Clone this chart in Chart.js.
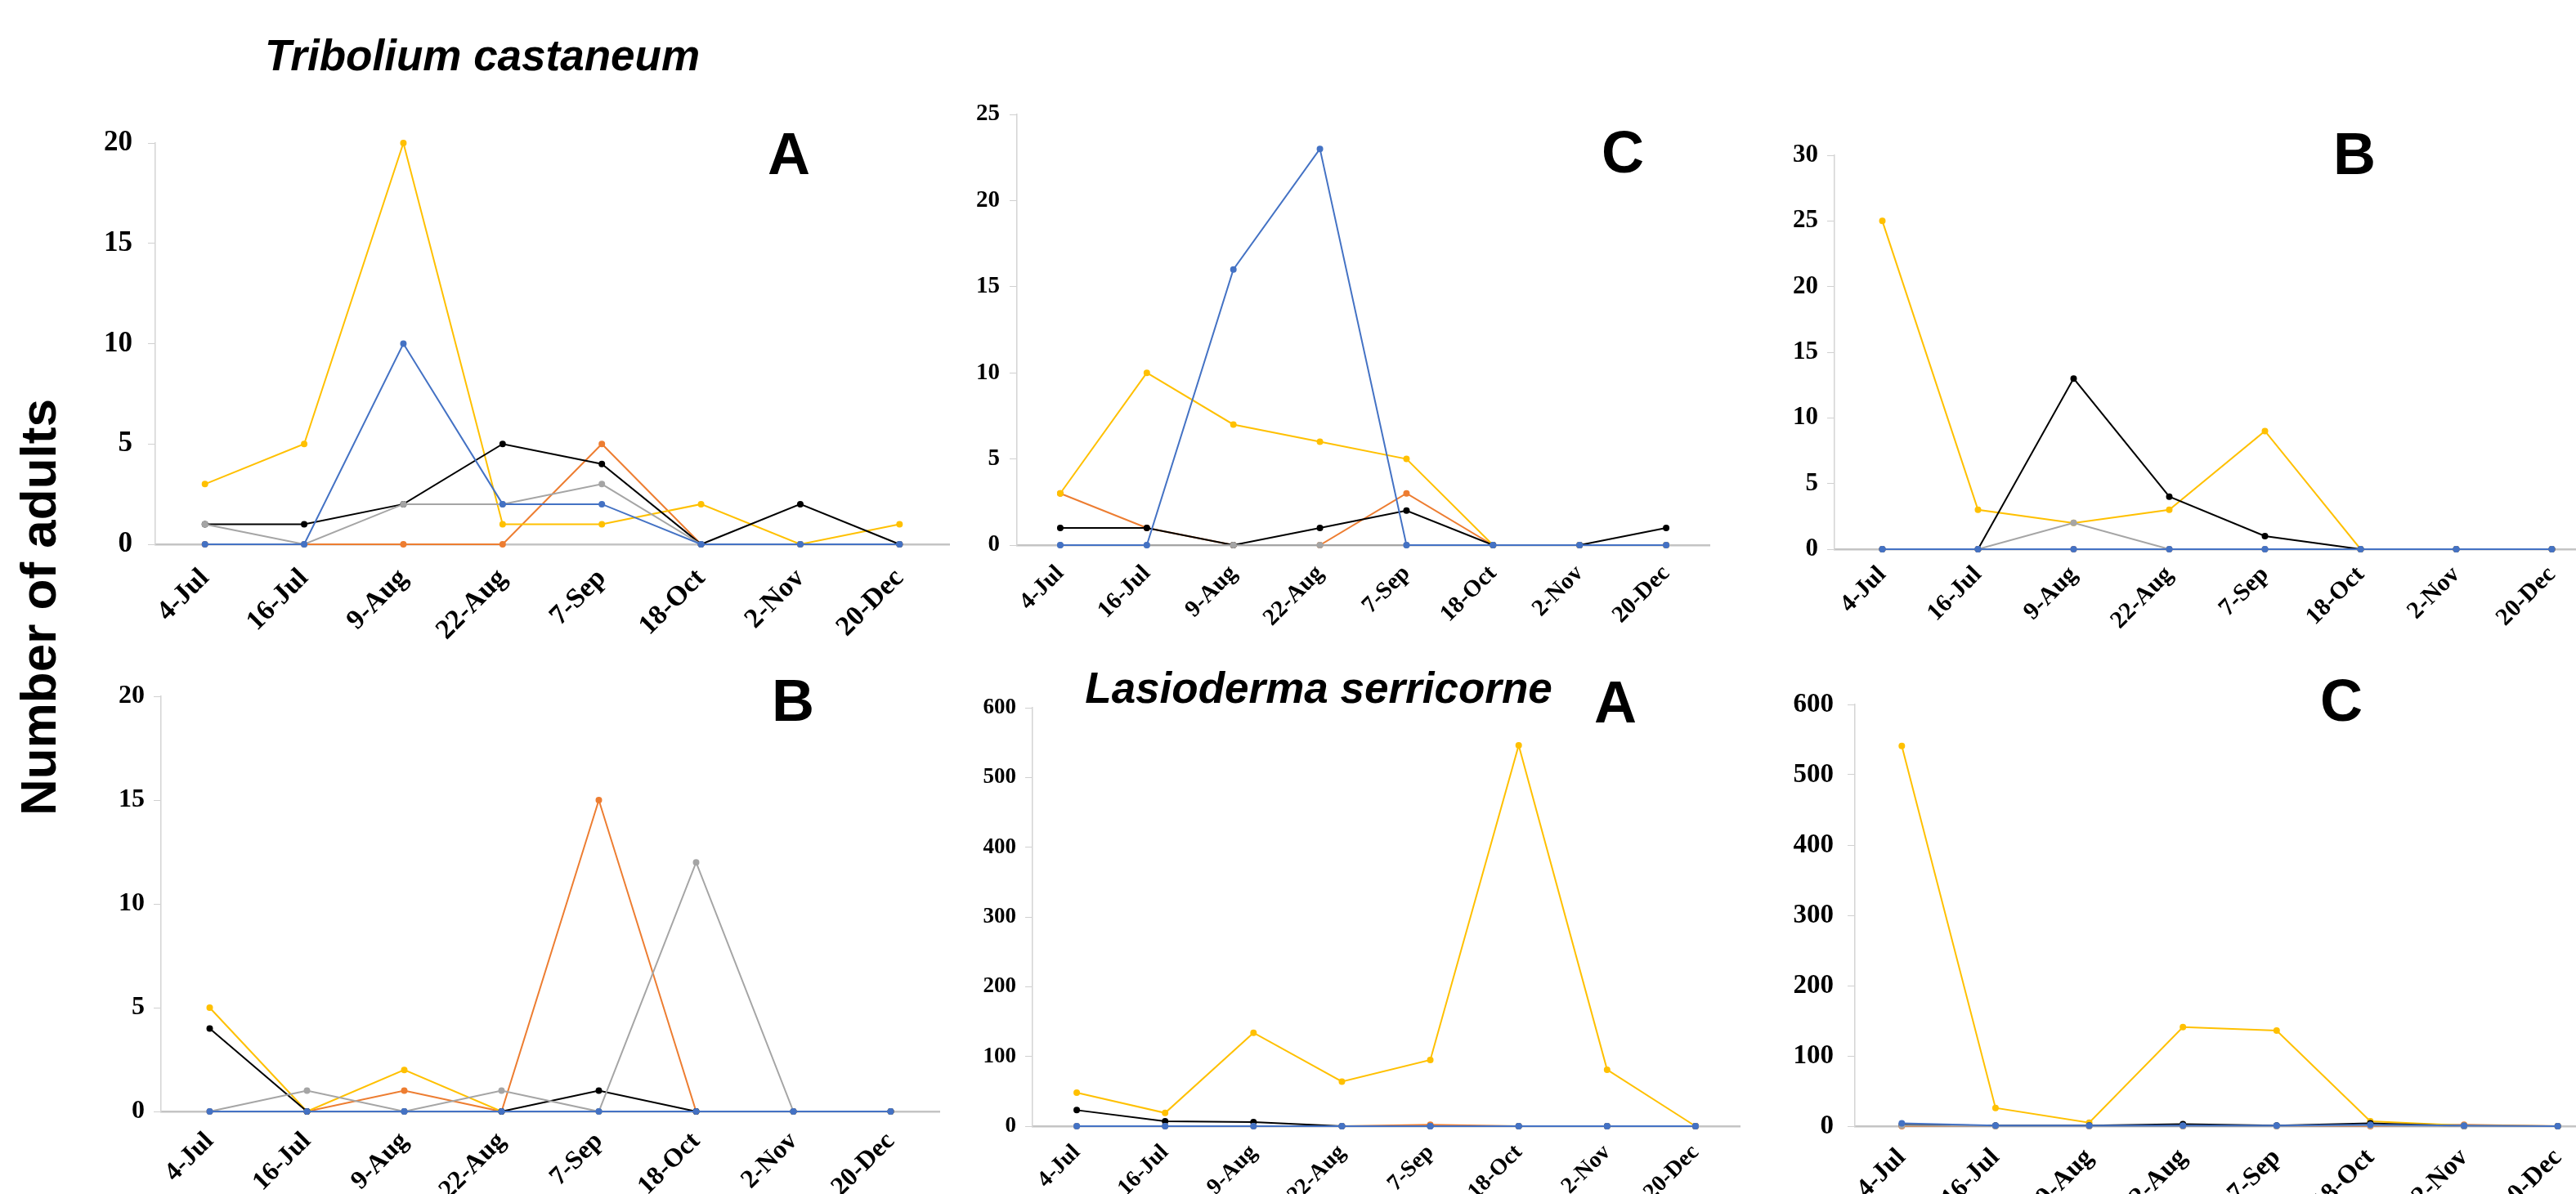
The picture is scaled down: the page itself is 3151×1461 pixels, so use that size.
<!DOCTYPE html>
<html>
<head>
<meta charset="utf-8">
<script src="https://cdn.jsdelivr.net/npm/chart.js@4.4.1/dist/chart.umd.min.js"></script>
<style>
  html, body { margin: 0; padding: 0; width: 3151px; height: 1461px; overflow: hidden; background: #fff; }
  canvas { position: absolute; }
  .lbl { position: absolute; font-family: "Liberation Sans", Arial, sans-serif; font-weight: bold;
         color: #000; line-height: 1; white-space: nowrap; transform: translateX(-50%); }
  .title { font-style: italic; font-size: 53px; }
  .letter { font-size: 72px; }
  .ytitle { position: absolute; font-family: "Liberation Sans", Arial, sans-serif; font-weight: bold;
            font-size: 62px; line-height: 1; white-space: nowrap; left: 47px; top: 743px;
            transform: translate(-50%, -50%) rotate(-90deg); }
</style>
</head>
<body>
<div class="ytitle">Number of adults</div>
<script>
const dates = ["4-Jul", "16-Jul", "9-Aug", "22-Aug", "7-Sep", "18-Oct", "2-Nov", "20-Dec"];

// Tribolium castaneum - A (top left)
const tcA_blue   = [0, 0, 10, 2, 2, 0, 0, 0];
const tcA_orange = [0, 0, 0, 0, 5, 0, 0, 0];
const tcA_gray   = [1, 0, 2, 2, 3, 0, 0, 0];
const tcA_yellow = [3, 5, 20, 1, 1, 2, 0, 1];
const tcA_black  = [1, 1, 2, 5, 4, 0, 2, 0];

// C (top middle)
const tcC_blue   = [0, 0, 16, 23, 0, 0, 0, 0];
const tcC_orange = [3, 1, 0, 0, 3, 0, 0, 0];
const tcC_gray   = [0, 0, 0, 0, 0, 0, 0, 0];
const tcC_yellow = [3, 10, 7, 6, 5, 0, 0, 0];
const tcC_black  = [1, 1, 0, 1, 2, 0, 0, 1];

// B (top right)
const tcB_blue   = [0, 0, 0, 0, 0, 0, 0, 0];
const tcB_orange = [0, 0, 0, 0, 0, 0, 0, 0];
const tcB_gray   = [0, 0, 2, 0, 0, 0, 0, 0];
const tcB_yellow = [25, 3, 2, 3, 9, 0, 0, 0];
const tcB_black  = [0, 0, 13, 4, 1, 0, 0, 0];

// B (bottom left)
const lsB_blue   = [0, 0, 0, 0, 0, 0, 0, 0];
const lsB_orange = [0, 0, 1, 0, 15, 0, 0, 0];
const lsB_gray   = [0, 1, 0, 1, 0, 12, 0, 0];
const lsB_yellow = [5, 0, 2, 0, 0, 0, 0, 0];
const lsB_black  = [4, 0, 0, 0, 1, 0, 0, 0];

// Lasioderma serricorne - A (bottom middle)
const lsA_blue   = [0, 0, 0, 0, 0, 0, 0, 0];
const lsA_orange = [0, 0, 0, 0, 2, 0, 0, 0];
const lsA_gray   = [0, 0, 0, 0, 0, 0, 0, 0];
const lsA_yellow = [48, 19, 134, 64, 95, 546, 81, 0];
const lsA_black  = [23, 7, 6, 0, 0, 0, 0, 0];

// C (bottom right)
const lsC_blue   = [4, 1, 1, 1, 1, 2, 1, 0];
const lsC_orange = [0, 0, 0, 0, 0, 0, 2, 0];
const lsC_gray   = [1, 0, 0, 0, 0, 1, 0, 0];
const lsC_yellow = [541, 26, 5, 141, 136, 7, 1, 0];
const lsC_black  = [2, 1, 1, 3, 1, 4, 0, 0];

const COLORS = { blue: "#4472C4", orange: "#ED7D31", gray: "#A5A5A5", yellow: "#FFC000", black: "#000000" };
const SERIF = '"Liberation Serif", "Times New Roman", serif';
const XH = 170, PT = 40, PR = 30;

function makePanel(p) {
  const left = p.axisX - 120, top = p.top - PT;
  const width = p.right + PR - left, height = p.bottom + XH - top;
  const c = document.createElement("canvas");
  c.width = width; c.height = height;
  c.style.left = left + "px"; c.style.top = top + "px";
  c.style.width = width + "px"; c.style.height = height + "px";
  document.body.appendChild(c);

  // blue drawn on top, orange at the bottom
  const series = [
    ["blue", p.blue, 1], ["gray", p.gray, 2], ["black", p.black, 3],
    ["yellow", p.yellow, 4], ["orange", p.orange, 5]
  ];
  new Chart(c, {
    type: "line",
    data: {
      labels: dates,
      datasets: series.map(([col, data, order]) => ({
        data: data, order: order,
        borderColor: COLORS[col], backgroundColor: COLORS[col],
        pointBackgroundColor: COLORS[col], pointBorderColor: COLORS[col],
        borderWidth: 2, pointRadius: 3, pointHoverRadius: 3, tension: 0, fill: false, clip: false
      }))
    },
    options: {
      responsive: false, animation: false, devicePixelRatio: 1,
      layout: { padding: { top: PT, right: PR, left: 0, bottom: 0 } },
      plugins: { legend: { display: false }, tooltip: { enabled: false } },
      scales: {
        x: {
          offset: true,
          grid: { display: true, drawOnChartArea: false, drawTicks: false },
          border: { display: true, color: "#c4c4c4", width: 2.5 },
          ticks: { autoSkip: false, minRotation: 45, maxRotation: 45, padding: p.xPad, color: "#000",
                   font: { family: SERIF, weight: "bold", size: p.xFont } },
          afterFit: (s) => { s.height = XH; }
        },
        y: {
          min: 0, max: p.max,
          ticks: { stepSize: p.step, padding: p.yPad, color: "#000",
                   font: { family: SERIF, weight: "bold", size: p.yFont } },
          grid: { display: true, drawOnChartArea: false, drawTicks: true, tickLength: 9, color: "#d0d0d0" },
          border: { display: true, color: "#d4d4d4", width: 1.5 },
          afterFit: (s) => { s.width = 120; }
        }
      }
    }
  });
}

makePanel({ axisX: 190, top: 175, bottom: 666, right: 1161, max: 20, step: 5, yFont: 35, xFont: 34, yPad: 19, xPad: 22,
  blue: tcA_blue, orange: tcA_orange, gray: tcA_gray, yellow: tcA_yellow, black: tcA_black });
makePanel({ axisX: 1244, top: 140, bottom: 667, right: 2091, max: 25, step: 5, yFont: 29, xFont: 29, yPad: 12, xPad: 18,
  blue: tcC_blue, orange: tcC_orange, gray: tcC_gray, yellow: tcC_yellow, black: tcC_black });
makePanel({ axisX: 2244, top: 190, bottom: 672, right: 3180, max: 30, step: 5, yFont: 31, xFont: 30, yPad: 11, xPad: 14,
  blue: tcB_blue, orange: tcB_orange, gray: tcB_gray, yellow: tcB_yellow, black: tcB_black });
makePanel({ axisX: 197, top: 852, bottom: 1360, right: 1149, max: 20, step: 5, yFont: 32, xFont: 32, yPad: 11, xPad: 18,
  blue: lsB_blue, orange: lsB_orange, gray: lsB_gray, yellow: lsB_yellow, black: lsB_black });
makePanel({ axisX: 1263, top: 866, bottom: 1378, right: 2128, max: 600, step: 100, yFont: 27, xFont: 28, yPad: 11, xPad: 16,
  blue: lsA_blue, orange: lsA_orange, gray: lsA_gray, yellow: lsA_yellow, black: lsA_black });
makePanel({ axisX: 2269, top: 862, bottom: 1378, right: 3186, max: 600, step: 100, yFont: 33, xFont: 32, yPad: 17, xPad: 20,
  blue: lsC_blue, orange: lsC_orange, gray: lsC_gray, yellow: lsC_yellow, black: lsC_black });

// titles and panel letters, placed by centre x and baseline
function addText(text, cls, cx, baseline, size) {
  const d = document.createElement("div");
  d.className = "lbl " + cls;
  d.textContent = text;
  d.style.left = cx + "px";
  d.style.top = (baseline - 0.8465 * size) + "px";
  document.body.appendChild(d);
}
addText("Tribolium castaneum", "title", 590, 86, 53);
addText("Lasioderma serricorne", "title", 1613, 860, 53);
addText("A", "letter", 965, 213, 72);
addText("C", "letter", 1985, 211, 72);
addText("B", "letter", 2880, 213, 72);
addText("B", "letter", 970, 882, 72);
addText("A", "letter", 1976, 884, 72);
addText("C", "letter", 2864, 882, 72);
</script>
</body>
</html>
